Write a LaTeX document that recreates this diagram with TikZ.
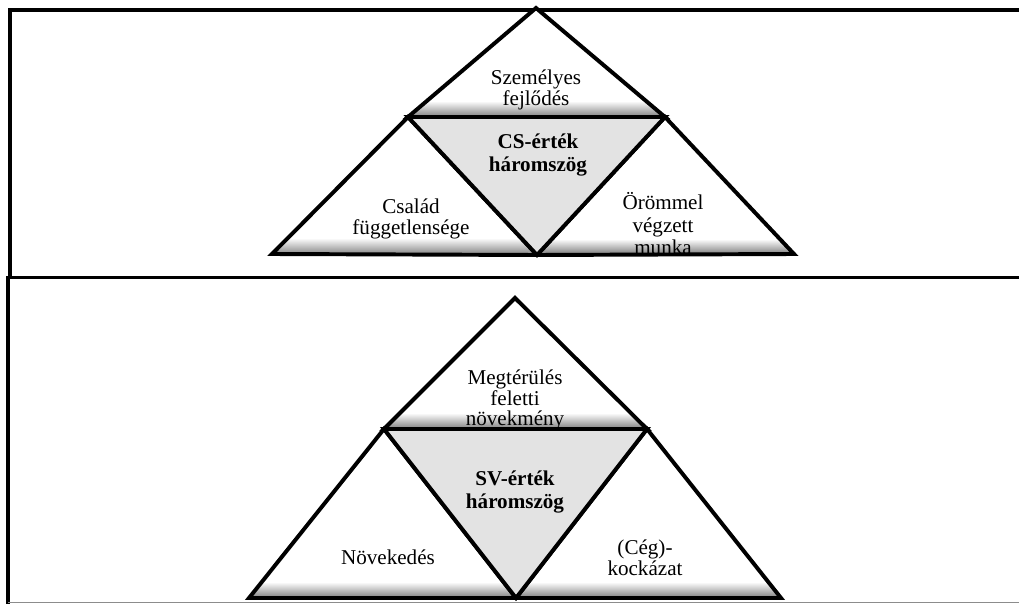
\documentclass[tikz,border=0pt]{standalone}
\usepackage{fontspec}
\setmainfont{Liberation Serif}
\usetikzlibrary{calc}

\begin{document}
\begin{tikzpicture}[
        x=0.025cm, y=-0.025cm,
        frameline/.style={line width=2.8pt, black},
        triline/.style={line width=2.8pt, black, line join=miter},
        tritext/.style={align=center, inner sep=0pt, font=\fontsize{15pt}{14.8pt}\selectfont},
        valuetext/.style={tritext, font=\fontsize{15pt}{16pt}\selectfont\bfseries},
    ]
        \path[use as bounding box, clip] (0,0) rectangle (1019,604);

        % Panel frames
        \draw[frameline] (10,279) -- (10,10) -- (1040,10);
        \draw[frameline] (8,277.5) -- (1040,277.5);
        \draw[frameline] (8,276) -- (8,610);
        \draw[black!45, line width=0.8pt] (8,602.5) -- (1040,602.5);

        % Triangle corners, CS panel
        \coordinate (cs-top) at (536,8);
        \coordinate (cs-ml) at (408,117);
        \coordinate (cs-mr) at (665,117);
        \coordinate (cs-bl) at (272,254);
        \coordinate (cs-bm) at (537,255);
        \coordinate (cs-br) at (794,254);

        % Triangle corners, SV panel
        \coordinate (sv-top) at (515,298);
        \coordinate (sv-ml) at (384,429);
        \coordinate (sv-mr) at (647,429);
        \coordinate (sv-bl) at (249,598);
        \coordinate (sv-bm) at (516,598);
        \coordinate (sv-br) at (781,598);

        \foreach \p in {cs,sv} {
            % outer triangles, shaded towards the base
            \foreach \a/\b/\c in {top/ml/mr, ml/bl/bm, mr/bm/br} {
                \begin{scope}
                    \clip (\p-\a) -- (\p-\b) -- (\p-\c) -- cycle;
                    \fill[white] (\p-\a) -- (\p-\b) -- (\p-\c) -- cycle;
                    \shade[top color=white, bottom color=black!50]
                        ($(\p-\b)+(0,-16)$) rectangle (\p-\c);
                \end{scope}
                \draw[triline] (\p-\a) -- (\p-\b) -- (\p-\c) -- cycle;
            }
            % inner value triangle
            \fill[black!11] (\p-ml) -- (\p-mr) -- (\p-bm) -- cycle;
            \draw[triline] (\p-ml) -- (\p-mr) -- (\p-bm) -- cycle;
        }

        % CS labels
        \node[tritext] (cs-fejl) at (536,90) {Személyes\\fejlődés};
        \node[valuetext] (cs-ertek) at (538,155) {CS-érték\\háromszög};
        \node[tritext] (cs-csal) at (411,219) {Család\\függetlensége};
        \node[tritext, font=\fontsize{15pt}{16pt}\selectfont] (cs-munka) at (663,224) {Örömmel\\végzett\\munka};

        % SV labels
        \node[tritext] (sv-megt) at (515,400) {Megtérülés\\feletti\\növekmény};
        \node[valuetext] (sv-ertek) at (515,492) {SV-érték\\háromszög};
        \node[tritext] (sv-nov) at (388,557) {Növekedés};
        \node[tritext] (sv-kock) at (645,558) {(Cég)-\\kockázat};
    \end{tikzpicture}
\end{document}
